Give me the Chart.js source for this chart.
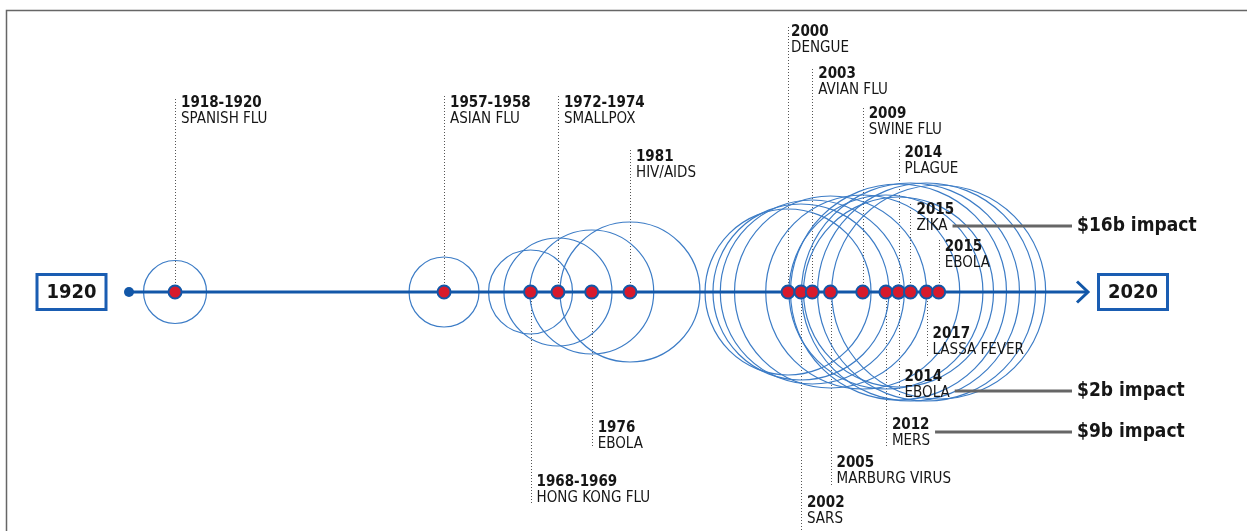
<!DOCTYPE html>
<html>
<head>
<meta charset="utf-8">
<script src="https://cdn.jsdelivr.net/npm/chart.js@4.4.1/dist/chart.umd.min.js"></script>
<style>
  html, body { margin: 0; padding: 0; background: #ffffff; }
  #wrap { width: 1247px; height: 531px; position: relative; }
</style>
</head>
<body>
<div id="wrap"><canvas id="timeline"></canvas></div>
<script>
// Outbreaks along the 1920-2020 timeline (position 0 = 1920, 100 = 2020 on the drawn axis)
const eventYears = ['1918-1920', '1957-1958', '1968-1969', '1972-1974', '1976', '1981',
  '2000', '2002', '2003', '2005', '2009', '2012', '2014', '2014', '2015', '2017', '2015'];
const eventNames = ['SPANISH FLU', 'ASIAN FLU', 'HONG KONG FLU', 'SMALLPOX', 'EBOLA', 'HIV/AIDS',
  'DENGUE', 'SARS', 'AVIAN FLU', 'MARBURG VIRUS', 'SWINE FLU', 'MERS', 'PLAGUE', 'EBOLA',
  'ZIKA', 'LASSA FEVER', 'EBOLA'];
const timelinePos = [4.8, 32.85, 41.87, 44.73, 48.25, 52.24,
  68.72, 70.07, 71.25, 73.15, 76.51, 78.93, 80.24, 80.24, 81.49, 83.16, 84.43];
// Size of each outbreak's ring
const ringSize = [31.5, 35, 42, 54, 62, 70, 83, 88, 92, 96, 97, 97, 108, 95, 109, 109, 107];

// Economic impact call-outs
const impactEvent = [14, 13, 11];
const impactBillions = [16, 2, 9];

// Timeline end labels
const axisStart = '1920';
const axisEnd = '2020';

// Label placement: year-line offset and stem end, in px from the axis
const labelLayout = [
  { text: -189, stem: -195 }, { text: -189, stem: -196 }, { text: 190, stem: 211 },
  { text: -189, stem: -196 }, { text: 136, stem: 155 }, { text: -135, stem: -143 },
  { text: -260, stem: -266, dx: 3 }, { text: 211, stem: 240 }, { text: -218, stem: -225 },
  { text: 171, stem: 193 }, { text: -178, stem: -185 }, { text: 133, stem: 154 },
  { text: -139, stem: -146 }, { text: 85, stem: 104 }, { text: -82, stem: -90 },
  { text: 42, stem: 65 }, { text: -45, stem: -52 }
];
const impactLineY = [-66, 99, 140];

const BLUE = '#1257a8';
const RING = '#3c7cc6';
const RED = '#d71a2c';
const INK = '#161616';
const GREY = '#666666';
const FONT = "'DejaVu Sans Condensed', 'DejaVu Sans', sans-serif";

const decorations = {
  id: 'decorations',
  beforeDraw(chart) {
    const ctx = chart.ctx;
    ctx.save();
    ctx.fillStyle = '#ffffff';
    ctx.fillRect(0, 0, chart.width, chart.height);
    // frame
    ctx.strokeStyle = GREY;
    ctx.lineWidth = 1.5;
    ctx.beginPath();
    ctx.moveTo(6.5, chart.height);
    ctx.lineTo(6.5, 10.5);
    ctx.lineTo(chart.width, 10.5);
    ctx.stroke();
    ctx.restore();
  },
  beforeDatasetsDraw(chart) {
    const ctx = chart.ctx;
    const xs = chart.scales.x, ys = chart.scales.y;
    const y0 = ys.getPixelForValue(0);
    ctx.save();
    ctx.strokeStyle = '#555555';
    ctx.lineWidth = 1;
    ctx.setLineDash([1, 2]);
    timelinePos.forEach((p, i) => {
      const x = Math.round(xs.getPixelForValue(p)) + 0.5;
      ctx.beginPath();
      ctx.moveTo(x, y0);
      ctx.lineTo(x, y0 + labelLayout[i].stem);
      ctx.stroke();
    });
    ctx.restore();
  },
  afterDatasetsDraw(chart) {
    const ctx = chart.ctx;
    const xs = chart.scales.x, ys = chart.scales.y;
    const y0 = ys.getPixelForValue(0);
    ctx.save();
    // event labels
    ctx.textBaseline = 'middle';
    ctx.textAlign = 'left';
    ctx.fillStyle = INK;
    const nameEnds = [];
    timelinePos.forEach((p, i) => {
      const L = labelLayout[i];
      const x = xs.getPixelForValue(p) + (L.dx !== undefined ? L.dx : 6);
      const ty = y0 + L.text;
      ctx.font = 'bold 15px ' + FONT;
      ctx.fillText(eventYears[i], x, ty);
      ctx.font = '15px ' + FONT;
      ctx.fillText(eventNames[i], x, ty + 16);
      nameEnds[i] = x + ctx.measureText(eventNames[i]).width;
    });
    // impact call-outs
    const calloutX = xs.getPixelForValue(100) - 16;
    impactEvent.forEach((ev, k) => {
      const ly = y0 + impactLineY[k];
      ctx.strokeStyle = GREY;
      ctx.lineWidth = 3;
      ctx.setLineDash([]);
      ctx.beginPath();
      ctx.moveTo(nameEnds[ev] + 5, ly);
      ctx.lineTo(calloutX, ly);
      ctx.stroke();
      ctx.font = 'bold 19px ' + FONT;
      ctx.fillStyle = INK;
      ctx.fillText('$' + impactBillions[k] + 'b impact', calloutX + 5, ly);
    });
    // arrow head
    const xe = xs.getPixelForValue(100);
    ctx.strokeStyle = BLUE;
    ctx.lineWidth = 3;
    ctx.lineJoin = 'miter';
    ctx.beginPath();
    ctx.moveTo(xe - 11, y0 - 10.5);
    ctx.lineTo(xe, y0);
    ctx.lineTo(xe - 11, y0 + 10.5);
    ctx.stroke();
    // end boxes
    const xsStart = xs.getPixelForValue(0);
    const boxes = [[xsStart - 57.5, axisStart], [xe + 45, axisEnd]];
    boxes.forEach(([cx, txt]) => {
      ctx.strokeStyle = '#1a5db2';
      ctx.lineWidth = 3;
      ctx.strokeRect(cx - 34.5, y0 - 17.5, 69, 35);
      ctx.font = 'bold 20px ' + FONT;
      ctx.fillStyle = INK;
      ctx.textAlign = 'center';
      ctx.fillText(txt, cx, y0 + 1);
    });
    ctx.restore();
  }
};

new Chart(document.getElementById('timeline'), {
  type: 'bubble',
  data: {
    datasets: [
      {
        label: 'dots',
        data: timelinePos.map(p => ({ x: p, y: 0, r: 6.5 })),
        backgroundColor: RED,
        borderColor: BLUE,
        borderWidth: 2,
        clip: false,
        order: 0
      },
      {
        type: 'line',
        label: 'axis',
        data: [{ x: 0, y: 0 }, { x: 100, y: 0 }],
        borderColor: BLUE,
        borderWidth: 3,
        pointRadius: [5, 0],
        pointBackgroundColor: BLUE,
        pointBorderWidth: 0,
        clip: false,
        order: 1
      },
      {
        label: 'rings',
        data: timelinePos.map((p, i) => ({ x: p, y: 0, r: ringSize[i] })),
        backgroundColor: 'rgba(0,0,0,0)',
        borderColor: RING,
        borderWidth: 1.2,
        clip: false,
        order: 2
      }
    ]
  },
  options: {
    responsive: true,
    maintainAspectRatio: false,
    animation: false,
    events: [],
    layout: { autoPadding: false, padding: { left: 129, right: 159, top: 0, bottom: 0 } },
    plugins: { legend: { display: false }, tooltip: { enabled: false } },
    scales: {
      x: { type: 'linear', min: 0, max: 100, display: false },
      y: { type: 'linear', min: -239, max: 292, display: false }
    }
  },
  plugins: [decorations]
});
</script>
</body>
</html>
